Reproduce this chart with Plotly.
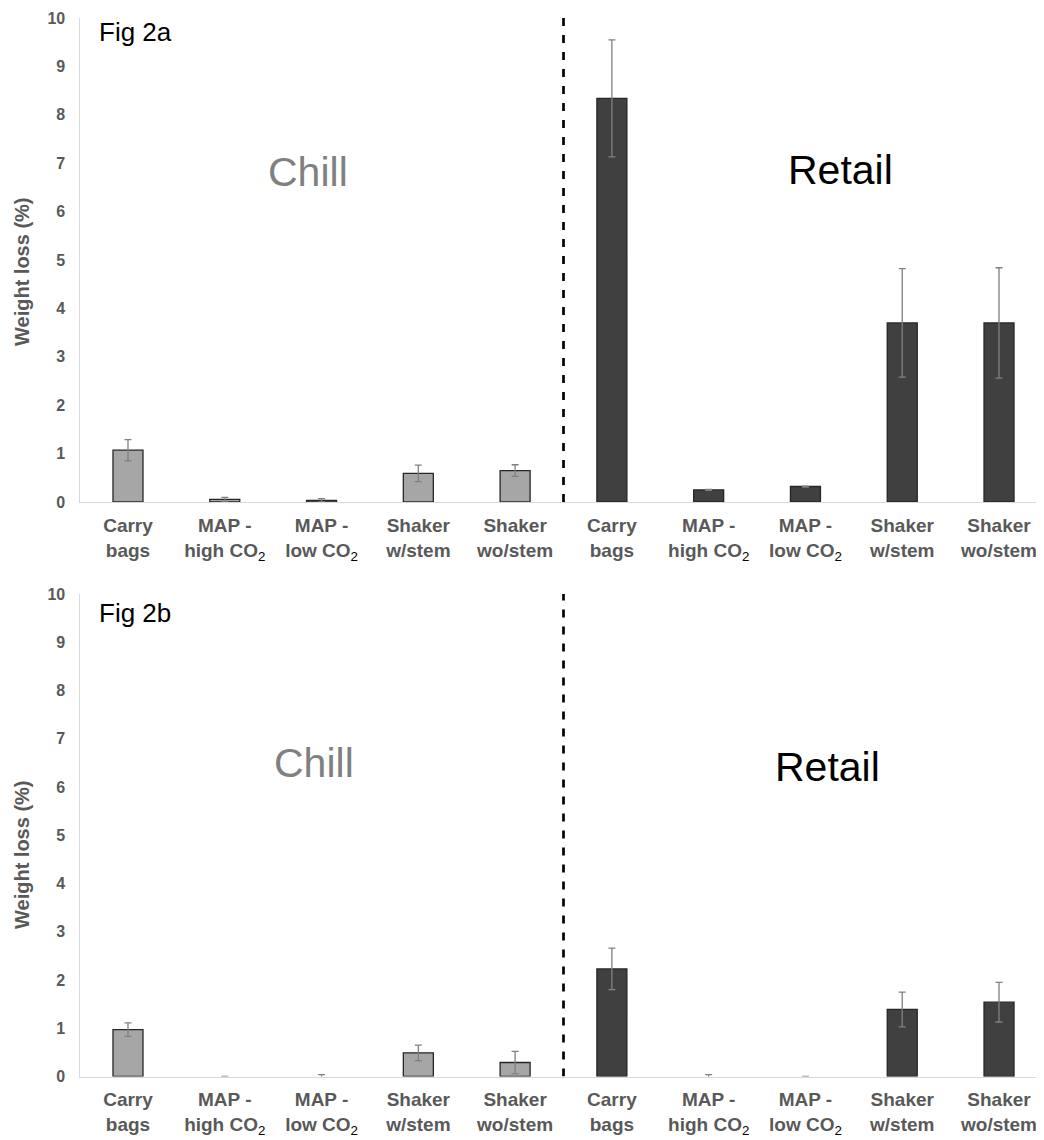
import plotly.graph_objects as go

# ---- data ----
categories = ["Carry<br>bags", "MAP -<br>high CO<sub>2</sub>", "MAP -<br>low CO<sub>2</sub>",
              "Shaker<br>w/stem", "Shaker<br>wo/stem"]
groups = ["Chill", "Retail"]

a_chill = [1.07, 0.055, 0.035, 0.59, 0.65]
a_chill_err = [0.22, 0.04, 0.035, 0.17, 0.12]
a_retail = [8.34, 0.25, 0.32, 3.70, 3.70]
a_retail_err = [1.21, 0.01, 0.01, 1.12, 1.14]

b_chill = [0.97, 0.0, 0.0, 0.49, 0.29]
b_chill_err = [0.14, 0.0, 0.04, 0.16, 0.23]
b_retail = [2.23, 0.0, 0.0, 1.39, 1.54]
b_retail_err = [0.43, 0.04, 0.0, 0.36, 0.41]

panel_labels = ["Fig 2a", "Fig 2b"]
y_ticks = list(range(0, 11))

# ---- styling ----
OFF = 8  # page body margin
W, H = 1044 - OFF, 1140 - OFF
FONT = "Arial, Liberation Sans, sans-serif"
CHILL_COLOR = "#a6a6a6"
RETAIL_COLOR = "#404040"
EDGE = "#262626"
ERR = "#808080"
TICK_COLOR = "#595959"


def px_x(p):
    return (p - OFF) / W


def px_y(p):
    return (H - (p - OFF)) / H


n = len(categories)
x_chill = list(range(n))
x_retail = list(range(n, 2 * n))
ticktext_raw = categories + categories
ticktext = [t.replace("<sub>2</sub>", "<sub><span style='color:black;font-weight:normal'>2</span></sub>")
            for t in ticktext_raw]

# pixel positions of plot areas (top, bottom) in reference image
top_px = [(18, 502), (594, 1076.5)]

fig = go.Figure()

panels = [
    (a_chill, a_chill_err, a_retail, a_retail_err),
    (b_chill, b_chill_err, b_retail, b_retail_err),
]


def edge_widths(vals):
    return [1.3 if v > 0 else 0 for v in vals]


for i, (c, ce, r, re_) in enumerate(panels):
    xa = "x" if i == 0 else "x2"
    ya = "y" if i == 0 else "y2"
    fig.add_trace(go.Bar(
        x=x_chill, y=c, name=groups[0], xaxis=xa, yaxis=ya, width=0.31,
        marker=dict(color=CHILL_COLOR, line=dict(color=EDGE, width=edge_widths(c))),
        error_y=dict(type="data", array=ce, visible=True, color=ERR, thickness=1.3, width=3.5),
        showlegend=False,
    ))
    fig.add_trace(go.Bar(
        x=x_retail, y=r, name=groups[1], xaxis=xa, yaxis=ya, width=0.31,
        marker=dict(color=RETAIL_COLOR, line=dict(color=EDGE, width=edge_widths(r))),
        error_y=dict(type="data", array=re_, visible=True, color=ERR, thickness=1.3, width=3.5),
        showlegend=False,
    ))

layout = dict(
    width=W, height=H,
    margin=dict(l=0, r=0, t=0, b=0),
    paper_bgcolor="white", plot_bgcolor="white",
    font=dict(family=FONT, color=TICK_COLOR),
)

xrange = [-0.5, 2 * n - 0.5 - 3.4 / 96.8]
for i, (ptop, pbot) in enumerate(top_px):
    dom = [px_y(pbot), px_y(ptop)]
    xkey = "xaxis" if i == 0 else "xaxis2"
    ykey = "yaxis" if i == 0 else "yaxis2"
    layout[xkey] = dict(
        domain=[px_x(79.6), 1], range=xrange, anchor="y" if i == 0 else "y2",
        tickmode="array", tickvals=x_chill + x_retail, ticktext=ticktext,
        showgrid=False, zeroline=False, showline=True, linecolor="#d9d9d9", linewidth=1.3,
        ticks="", ticklabelstandoff=6, automargin=False,
        tickfont=dict(family=FONT, size=19, color=TICK_COLOR, weight="bold"),
    )
    layout[ykey] = dict(
        domain=dom, range=[0, 10], anchor="x" if i == 0 else "x2",
        tickmode="array", tickvals=y_ticks,
        showgrid=False, zeroline=False, showline=True, linecolor="#d9d9d9", linewidth=1.3,
        ticks="", ticklabelstandoff=10, automargin=False,
        tickfont=dict(family=FONT, size=16, color=TICK_COLOR, weight="bold"),
    )

fig.update_layout(**layout)

# dashed separators
fig.add_shape(type="line", xref="x", yref="y", x0=n - 0.5, x1=n - 0.5, y0=0, y1=10.2,
              line=dict(color="black", width=2.7, dash="8px,9px"))
fig.add_shape(type="line", xref="x2", yref="y2", x0=n - 0.5, x1=n - 0.5, y0=0, y1=10.1,
              line=dict(color="black", width=2.7, dash="8px,9px"))

# group labels
label_pos = [
    [(1.86, 6.82), (7.36, 6.85)],
    [(1.92, 6.5), (7.23, 6.41)],
]
for i, pos in enumerate(label_pos):
    xr = "x" if i == 0 else "x2"
    yr = "y" if i == 0 else "y2"
    for g, (gx, gy), col in zip(groups, pos, ["#808080", "black"]):
        fig.add_annotation(x=gx, y=gy, xref=xr, yref=yr, text=g, showarrow=False,
                           font=dict(family=FONT, size=41, color=col),
                           xanchor="center", yanchor="middle")

# panel labels
for lab, ypx in zip(panel_labels, [32, 613]):
    fig.add_annotation(x=px_x(97), y=px_y(ypx), xref="paper", yref="paper", text=lab,
                       showarrow=False, xanchor="left", yanchor="middle",
                       font=dict(family=FONT, size=26, color="black"))

# y axis titles
for ypx in [272, 855]:
    fig.add_annotation(x=px_x(22), y=px_y(ypx), xref="paper", yref="paper",
                       text="Weight loss (%)", showarrow=False, textangle=-90,
                       xanchor="center", yanchor="middle",
                       font=dict(family=FONT, size=20, color=TICK_COLOR, weight="bold"))

fig.write_html("out.html")
